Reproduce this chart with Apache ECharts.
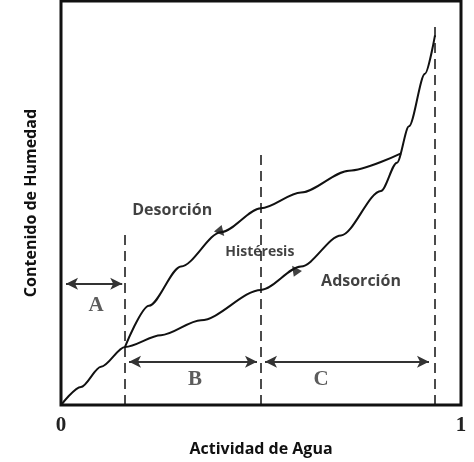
<!DOCTYPE html>
<html style="height: 100%">
<head>
    <meta charset="UTF-8" />
    <script src="https://cdn.jsdelivr.net/npm/echarts@6/dist/echarts.min.js"></script>
</head>
<body style="height: 100%; margin: 0; background: #fff">
    <div id="main" style="width: 474px; height: 462px"></div>
    <script type="text/javascript">
        var adsorcion = [[0, 0], [0.05, 0.045], [0.1, 0.095], [0.16, 0.144], [0.25, 0.173], [0.35, 0.21], [0.5, 0.285],
            [0.6, 0.343], [0.7, 0.42], [0.8, 0.53], [0.84, 0.6], [0.87, 0.69], [0.91, 0.82], [0.935, 0.915]];
        var desorcion = [[0.16, 0.144], [0.22, 0.246], [0.3, 0.343], [0.4, 0.428], [0.5, 0.487], [0.6, 0.526],
            [0.72, 0.58], [0.85, 0.623]];
        var divisiones = [[0.16, 0.435], [0.5, 0.63], [0.935, 0.95]];
        var rangos = [['A', 0.0125, 0.153, 0.3, 0.0875, 0.246], ['B', 0.17, 0.49, 0.107, 0.335, 0.063], ['C', 0.51, 0.92, 0.107, 0.65, 0.063]];
        var textos = [['Desorción', 0.278, 0.482, 16], ['Histéresis', 0.497, 0.38, 14], ['Adsorción', 0.75, 0.307, 16]];
        var flechas = [[0.4, 0.428, 220], [0.585, 0.335, 35]];

        var chart = echarts.init(document.getElementById('main'));
        var line = { color: '#111', width: 2 };
        var series = [
            { type: 'line', data: adsorcion, smooth: 0.3, smoothMonotone: 'x', showSymbol: false, lineStyle: line, z: 5 },
            { type: 'line', data: desorcion, smooth: 0.3, smoothMonotone: 'x', showSymbol: false, lineStyle: line, z: 5 },
            {
                type: 'line', data: [], lineStyle: line,
                markLine: {
                    silent: true, symbol: 'none',
                    lineStyle: { color: '#111', type: [10, 6], width: 1.5 },
                    label: { show: false },
                    data: divisiones.map(function (d) { return [{ coord: [d[0], 0] }, { coord: [d[0], d[1]] }]; })
                }
            },
            {
                type: 'line', data: [],
                markLine: {
                    silent: true, symbol: ['arrow', 'arrow'], symbolSize: [9, 12],
                    lineStyle: { color: '#333', type: 'solid', width: 2 },
                    label: { show: false },
                    data: rangos.map(function (r) { return [{ coord: [r[1], r[3]] }, { coord: [r[2], r[3]] }]; })
                }
            },
            {
                type: 'scatter', symbolSize: 0,
                data: rangos.map(function (r) { return { value: [r[4], r[5]], label: { formatter: r[0] } }; }),
                label: { show: true, position: 'inside', fontFamily: 'Liberation Serif', fontWeight: 'bold', fontSize: 21, color: '#333' }
            },
            {
                type: 'scatter', symbolSize: 0,
                data: textos.map(function (t) { return { value: [t[1], t[2]], label: { formatter: t[0], fontSize: t[3] } }; }),
                label: { show: true, position: 'inside', fontFamily: 'Open Sans', fontWeight: 'bold', color: '#111' }
            },
            {
                type: 'scatter', symbol: 'triangle', symbolSize: 10, itemStyle: { color: '#111' }, z: 6,
                data: flechas.map(function (f) { return { value: [f[0], f[1]], symbolRotate: f[2] }; })
            }
        ];

        chart.setOption({
            animation: false,
            grid: { left: 61, right: 13, top: 1, bottom: 51, show: true, borderColor: '#111', borderWidth: 3 },
            xAxis: {
                type: 'value', min: 0, max: 1, interval: 1,
                name: 'Actividad de Agua', nameLocation: 'middle', nameGap: 32,
                nameTextStyle: { fontFamily: 'Open Sans', fontWeight: 'bold', fontSize: 16, color: '#111' },
                axisLine: { show: false }, axisTick: { show: false }, splitLine: { show: false },
                axisLabel: { fontFamily: 'Liberation Serif', fontWeight: 'bold', fontSize: 21, color: '#222', margin: 10 }
            },
            yAxis: {
                type: 'value', min: 0, max: 1,
                name: 'Contenido de Humedad', nameLocation: 'middle', nameGap: 22,
                nameTextStyle: { fontFamily: 'Open Sans', fontWeight: 'bold', fontSize: 16, color: '#111' },
                axisLine: { show: false }, axisTick: { show: false }, splitLine: { show: false },
                axisLabel: { show: false }
            },
            series: series
        });
    </script>
</body>
</html>
